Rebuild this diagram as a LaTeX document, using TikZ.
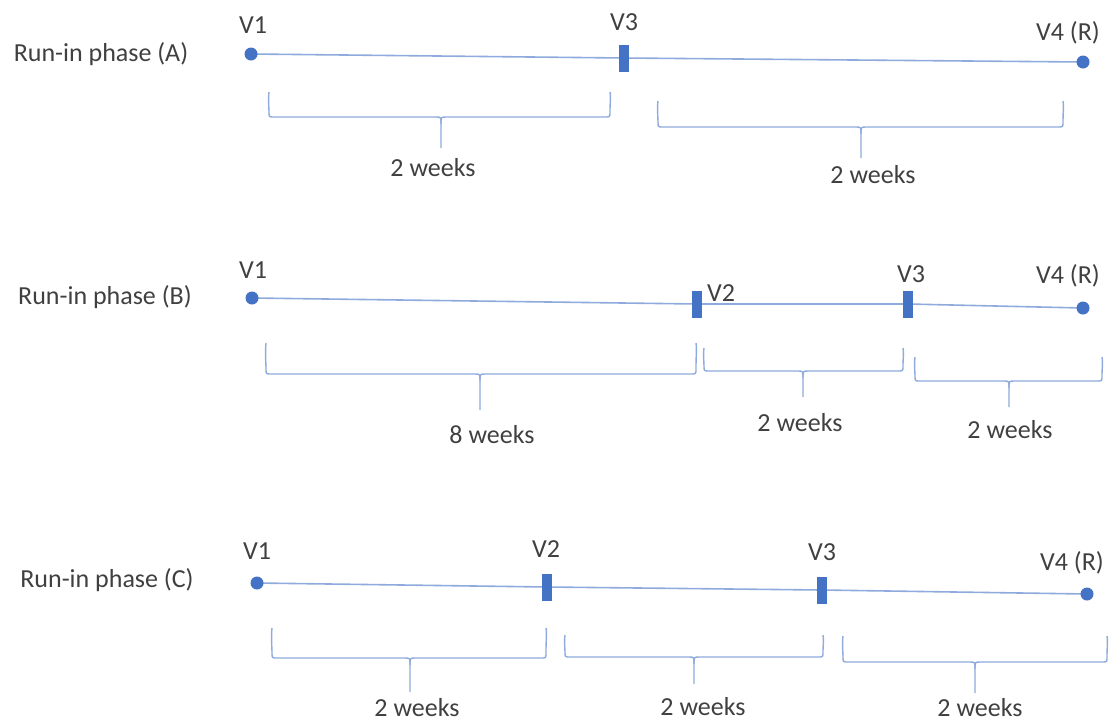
\documentclass[tikz,border=0pt]{standalone}
\usepackage{fontspec}
\setmainfont{Carlito}
\definecolor{txt}{HTML}{404040}
\definecolor{lineblue}{HTML}{8FAADC}
\definecolor{markblue}{HTML}{4472C4}
\newcommand\mybrace[6]{%
  \draw[brc] (#1,#3) .. controls (#1-1,#3+8) and (#1,#4-10) .. (#1,#4-5)
    .. controls (#1,#4) .. (#1+5,#4) -- (#5-5,#4) .. controls (#5,#4) .. (#5,#4+7) -- (#5,#6);
  \draw[brc] (#5,#4+7) .. controls (#5,#4) .. (#5+5,#4) -- (#2-5,#4)
    .. controls (#2,#4) .. (#2,#4-5) .. controls (#2,#3+8) and (#2+1,#3+8) .. (#2,#3);
}
\tikzset{
  lbl/.style={text=txt, font=\fontsize{26}{31}\selectfont, inner sep=0pt},
  visitdot/.style={circle, fill=markblue, minimum size=13pt, inner sep=0pt},
  visitbar/.style={rectangle, fill=markblue, minimum width=10pt, minimum height=27pt, inner sep=0pt},
  tl/.style={draw=lineblue, line width=1.6pt},
  brc/.style={draw=lineblue, line width=1.4pt}
}
\begin{document}
\begin{tikzpicture}[x=1pt,y=-1pt]
\useasboundingbox (0,0) rectangle (1110,724);
% ---------- Row A ----------
\node[lbl] (pa) at (101,54) {Run-in phase (A)};
\coordinate (a1) at (251,54);
\coordinate (a3) at (624,58);
\coordinate (a4) at (1083,62);
\draw[tl] (a1) -- (a3) -- (a4);
\node[visitbar] (ma3) at (a3) {};
\node[visitdot] (ma1) at (a1) {};
\node[visitdot] (ma4) at (a4) {};
\node[lbl] (la1) at (253,25) {V1};
\node[lbl] (la3) at (624,22) {V3};
\node[lbl] (la4) at (1068,33) {V4 (R)};
\mybrace{269}{610}{92}{117}{441}{148}
\node[lbl] (wa1) at (433,168) {2 weeks};
\mybrace{658}{1063}{101}{127}{861}{158}
\node[lbl] (wa2) at (873,175) {2 weeks};
% ---------- Row B ----------
\node[lbl] (pb) at (105,297) {Run-in phase (B)};
\coordinate (b1) at (252,298);
\coordinate (b2) at (697,304);
\coordinate (b3) at (908,304);
\coordinate (b4) at (1083,308);
\draw[tl] (b1) -- (b2) -- (b3) -- (b4);
\node[visitbar] (mb2) at (b2) {};
\node[visitbar] (mb3) at (b3) {};
\node[visitdot] (mb1) at (b1) {};
\node[visitdot] (mb4) at (b4) {};
\node[lbl] (lb1) at (253,270) {V1};
\node[lbl] (lb2) at (721,293) {V2};
\node[lbl] (lb3) at (911,274) {V3};
\node[lbl] (lb4) at (1068,276) {V4 (R)};
\mybrace{266}{696}{343}{374}{480}{410}
\node[lbl] (wb1) at (492,435) {8 weeks};
\mybrace{704}{903}{348}{371}{803}{397}
\node[lbl] (wb2) at (800,423) {2 weeks};
\mybrace{915}{1102}{357}{381}{1009}{407}
\node[lbl] (wb3) at (1010,430) {2 weeks};
% ---------- Row C ----------
\node[lbl] (pc) at (107,580) {Run-in phase (C)};
\coordinate (c1) at (257,583);
\coordinate (c2) at (547,587);
\coordinate (c3) at (822,590);
\coordinate (c4) at (1087,594);
\draw[tl] (c1) -- (c2) -- (c3) -- (c4);
\node[visitbar] (mc2) at (c2) {};
\node[visitbar] (mc3) at (c3) {};
\node[visitdot] (mc1) at (c1) {};
\node[visitdot] (mc4) at (c4) {};
\node[lbl] (lc1) at (257,551) {V1};
\node[lbl] (lc2) at (546,549) {V2};
\node[lbl] (lc3) at (822,552) {V3};
\node[lbl] (lc4) at (1072,563) {V4 (R)};
\mybrace{272}{546}{628}{658}{410}{692}
\node[lbl] (wc1) at (417,708) {2 weeks};
\mybrace{565}{823}{635}{657}{694}{684}
\node[lbl] (wc2) at (703,707) {2 weeks};
\mybrace{843}{1107}{636}{662}{975}{693}
\node[lbl] (wc3) at (980,708) {2 weeks};
\end{tikzpicture}
\end{document}
